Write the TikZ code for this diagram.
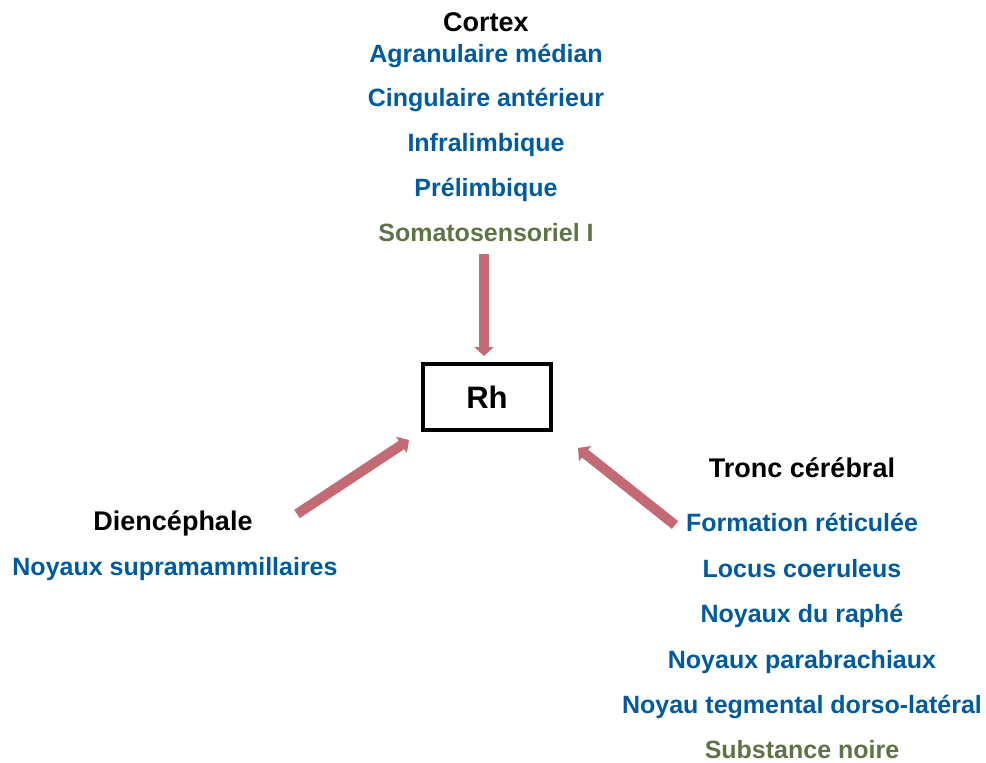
\documentclass[tikz,border=0pt]{standalone}
\usepackage{fontspec}
\setmainfont{Liberation Sans}
\usetikzlibrary{arrows.meta,positioning}

\definecolor{listblue}{RGB}{0,90,160}
\definecolor{listgreen}{RGB}{95,115,70}
\definecolor{arrowpink}{RGB}{196,106,117}

\begin{document}
\begin{tikzpicture}[x=1pt, y=-1pt,
        head/.style={anchor=base, inner sep=0pt, font=\fontsize{27}{32}\selectfont\bfseries},
        region/.style={anchor=base, inner sep=0pt, text=listblue, font=\fontsize{25}{30}\selectfont\bfseries},
        other/.style={region, text=listgreen},
        proj/.style={line width=10pt, draw=arrowpink, -{Triangle[width=19pt,length=9pt]}}]
        \useasboundingbox (0,0) rectangle (986,763);

        % Target nucleus
        \node [draw, line width=4pt, minimum width=128pt, minimum height=66pt,
               font=\fontsize{31}{36}\selectfont\bfseries] (rh) at (487,397) {Rh};

        % Cortex
        \node [head] (cortex) at (486,31) {Cortex};
        \node [region] (agr) at (486,62) {Agranulaire médian};
        \node [region] (cing) at (486,106) {Cingulaire antérieur};
        \node [region] (infra) at (486,151) {Infralimbique};
        \node [region] (prel) at (486,196) {Prélimbique};
        \node [other] (soma) at (486,241) {Somatosensoriel I};

        % Diencephale
        \node [head] (dien) at (173,530) {Diencéphale};
        \node [region] (supra) at (175,575) {Noyaux supramammillaires};

        % Tronc cerebral
        \node [head] (tronc) at (802,477) {Tronc cérébral};
        \node [region] (form) at (802,531) {Formation réticulée};
        \node [region] (locus) at (802,577) {Locus coeruleus};
        \node [region] (raphe) at (802,622) {Noyaux du raphé};
        \node [region] (parab) at (802,668) {Noyaux parabrachiaux};
        \node [region] (tegm) at (802,713) {Noyau tegmental dorso-latéral};
        \node [other] (noire) at (802,758) {Substance noire};

        % Projections
        \coordinate (ctxout) at (484,254);
        \coordinate (ctxin) at (484,356);
        \coordinate (dienout) at (297,514);
        \coordinate (dienin) at (409,440);
        \coordinate (troncout) at (675,525);
        \coordinate (troncin) at (578,448);
        \draw [proj] (ctxout) -- (ctxin);
        \draw [proj] (dienout) -- (dienin);
        \draw [proj] (troncout) -- (troncin);
\end{tikzpicture}
\end{document}
